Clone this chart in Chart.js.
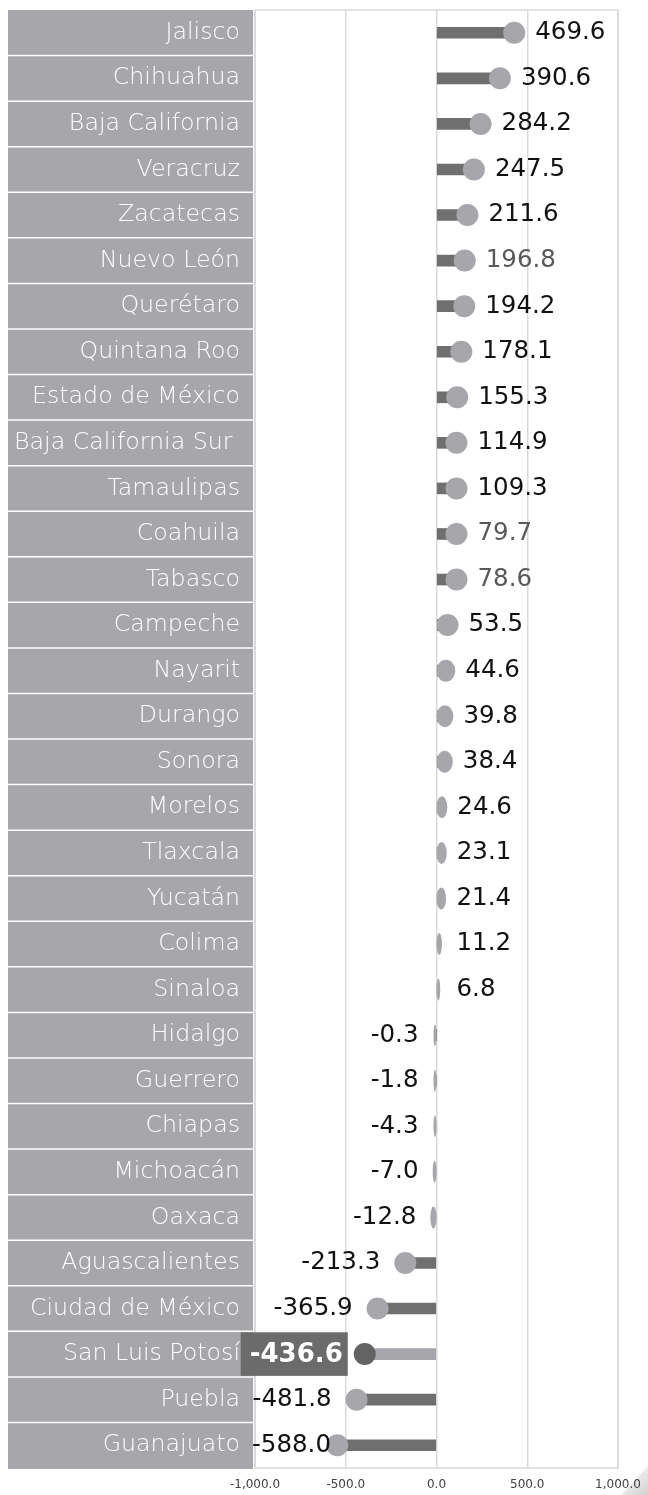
<!DOCTYPE html>
<html><head><meta charset="utf-8">
<script src="https://cdn.jsdelivr.net/npm/chart.js@4/dist/chart.umd.min.js"></script>
<style>html,body{margin:0;padding:0;background:#fff}canvas{display:block}</style>
</head><body>
<canvas id="c" width="648" height="1495"></canvas>
<script>
const categories = ['Jalisco','Chihuahua','Baja California','Veracruz','Zacatecas','Nuevo León','Querétaro','Quintana Roo','Estado de México','Baja California Sur ','Tamaulipas','Coahuila','Tabasco','Campeche','Nayarit','Durango','Sonora','Morelos','Tlaxcala','Yucatán','Colima','Sinaloa','Hidalgo','Guerrero','Chiapas','Michoacán','Oaxaca','Aguascalientes','Ciudad de México','San Luis Potosí','Puebla','Guanajuato'];
const values = [469.6,390.6,284.2,247.5,211.6,196.8,194.2,178.1,155.3,114.9,109.3,79.7,78.6,53.5,44.6,39.8,38.4,24.6,23.1,21.4,11.2,6.8,-0.3,-1.8,-4.3,-7.0,-12.8,-213.3,-365.9,-436.6,-481.8,-588.0];
const xTicks = [-1000,-500,0,500,1000];
const grayLabelCategories = ['Nuevo León','Coahuila','Tabasco'];
const highlightCategory = 'San Luis Potosí';

const BOX = '#a7a7ab', BAR = '#6f6f6f', DOT = '#a7a7ab', HI_DOT = '#636363', HI_BOX = '#6b6b6b';
const R = 11;
const fmt = v => Number(v).toLocaleString('en-US',{minimumFractionDigits:1,maximumFractionDigits:1});

const labelBoxes = {
  id:'labelBoxes',
  beforeDraw(chart){
    const {ctx} = chart, y = chart.scales.y;
    const n = categories.length, band = (y.bottom - y.top)/n;
    ctx.save();
    const g = ctx.createLinearGradient(648,1495,630,1475);
    g.addColorStop(0,'#d0d0d0'); g.addColorStop(1,'#f4f4f4');
    ctx.fillStyle = g;
    ctx.beginPath(); ctx.moveTo(621,1495); ctx.lineTo(648,1466); ctx.lineTo(648,1495); ctx.closePath(); ctx.fill();
    ctx.fillStyle = BOX;
    ctx.fillRect(8, y.top, 245, y.bottom - y.top + 1);
    ctx.strokeStyle = '#ffffff'; ctx.lineWidth = 1.5;
    for (let i=1;i<n;i++){
      const yy = y.getPixelForValue(i) - band/2;
      ctx.beginPath(); ctx.moveTo(8, yy); ctx.lineTo(253, yy); ctx.stroke();
    }
    ctx.restore();
  },
  beforeDatasetsDraw(chart){
    const {ctx, chartArea:a} = chart;
    ctx.save(); ctx.strokeStyle = '#d9d9d9'; ctx.lineWidth = 1.5;
    ctx.strokeRect(a.left, a.top, a.right - a.left, a.bottom - a.top);
    ctx.restore();
  },
  afterDatasetsDraw(chart){
    const {ctx} = chart, meta = chart.getDatasetMeta(0);
    const xs = chart.scales.x, z = xs.getPixelForValue(0);
    const band = (chart.scales.y.bottom - chart.scales.y.top)/categories.length;
    ctx.save();
    meta.data.forEach((el,i)=>{
      const v = values[i], s = v < 0 ? -1 : 1, d = Math.abs(el.x - z);
      const hi = categories[i] === highlightCategory;
      let cx, rx;
      if (d < 12){ const w = Math.max(3, Math.min(2*R, 2.2*d + 1)); rx = w/2; cx = z + s*rx; }
      else { rx = R; cx = z + s*Math.max(R + 9, d - 7.5); }
      ctx.fillStyle = hi ? HI_DOT : DOT;
      ctx.beginPath(); ctx.ellipse(cx, el.y, rx, R, 0, 0, Math.PI*2); ctx.fill();
      const txt = fmt(v);
      ctx.textBaseline = 'middle';
      if (hi){
        ctx.font = 'bold 26px "DejaVu Sans"';
        const tw = ctx.measureText(txt).width;
        const right = cx - rx - 6;
        ctx.fillStyle = HI_BOX;
        ctx.fillRect(right - tw - 14, el.y - band/2 + 1, tw + 14, band - 2);
        ctx.fillStyle = '#ffffff'; ctx.textAlign = 'right';
        ctx.fillText(txt, right - 5, el.y + 1);
        return;
      }
      ctx.font = '24.5px "DejaVu Sans"';
      ctx.fillStyle = grayLabelCategories.includes(categories[i]) ? '#595959' : '#111111';
      const tw = ctx.measureText(txt).width;
      if (s > 0){
        ctx.textAlign = 'left';
        ctx.fillText(txt, Math.max(cx + rx + 10, z + 20), el.y);
      } else {
        ctx.textAlign = 'right';
        let xr = Math.min(cx - rx - 14, z - 18);
        if (xr - tw < 252) xr = 252 + tw;
        ctx.fillText(txt, xr, el.y);
      }
    });
    ctx.restore();
  }
};

new Chart(document.getElementById('c'), {
  type:'bar',
  data:{labels:categories, datasets:[{
    data:values,
    backgroundColor: categories.map(c => c === highlightCategory ? BOX : BAR),
    barThickness: 11, borderWidth:0
  }]},
  options:{
    indexAxis:'y', responsive:false, devicePixelRatio:1, animation:false,
    layout:{padding:{top:10,right:30,left:0,bottom:0}},
    plugins:{legend:{display:false}, tooltip:{enabled:false}},
    scales:{
      x:{min:-1000,max:1000,
        afterBuildTicks: s => { s.ticks = xTicks.map(v=>({value:v})); },
        afterFit: s => { s.height = 27; s.paddingTop = 0; s.paddingBottom = 0; s.paddingLeft = 0; s.paddingRight = 0; },
        ticks:{callback: v => fmt(v), color:'#404040', font:{family:'DejaVu Sans', size:12}, padding:10, maxRotation:0, autoSkip:false},
        grid:{color:'#d9d9d9', lineWidth:1.5, drawTicks:false}, border:{display:false}},
      y:{
        afterFit: s => { s.width = 255; s.paddingTop = 0; s.paddingBottom = 0; },
        ticks:{color:'#ffffff', font:{family:'DejaVu Sans', size:23.7, weight:200}, padding:15, autoSkip:false},
        grid:{display:false, drawTicks:false}, border:{display:false}}
    }
  },
  plugins:[labelBoxes]
});
</script>
</body></html>
